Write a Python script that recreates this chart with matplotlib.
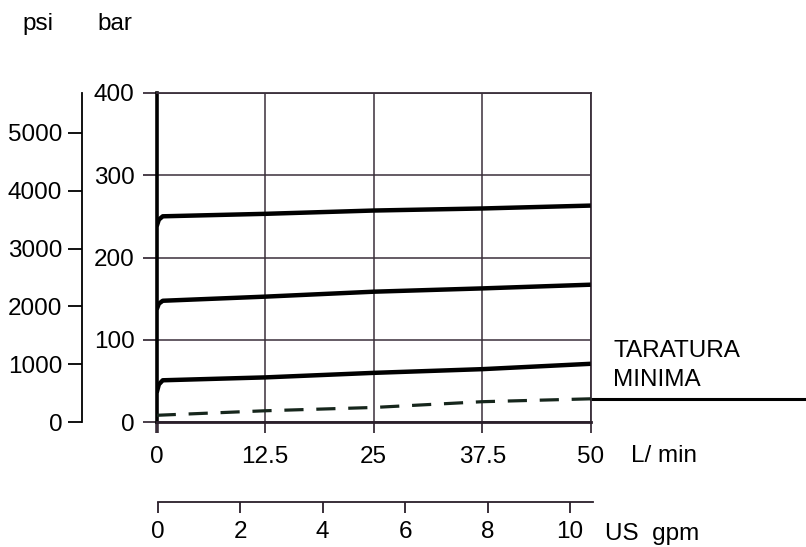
import matplotlib
matplotlib.use("Agg")
import matplotlib.pyplot as plt

plt.rcParams['font.family'] = ['Liberation Sans', 'DejaVu Sans']

# flow (L/min) and pressure (bar)
flow = [0, 0.25, 0.7, 12.5, 25, 37.5, 50]
p_high = [238, 246, 250, 253, 257, 259.5, 263]
p_mid = [137, 144, 147.5, 152.5, 158.5, 162.5, 167]
p_low = [36, 46, 51, 54.5, 60, 64.5, 71]
flow_min = [0, 12.5, 25, 37.5, 50]
p_min = [8.5, 14, 18, 25, 28.5]

lmin_ticks = [0, 12.5, 25, 37.5, 50]
lmin_labels = ['0', '12.5', '25', '37.5', '50']
bar_ticks = [0, 100, 200, 300, 400]
psi_ticks = [0, 1000, 2000, 3000, 4000, 5000]
gpm_ticks = [0, 2, 4, 6, 8, 10]

W, H = 806, 547
fs = 17.5
grid_c = '#3a2f3a'

fig = plt.figure(figsize=(W / 100, H / 100), dpi=100)

def box(l, r, top, bottom):
    return [l / W, 1 - bottom / H, (r - l) / W, (bottom - top) / H]

# main chart (bar vs L/min)
ax = fig.add_axes(box(156.7, 590.7, 92.7, 422.3))
ax.set_xlim(0, 50)
ax.set_ylim(0, 400)
ax.set_xticks(lmin_ticks)
ax.set_xticklabels(lmin_labels)
ax.set_yticks(bar_ticks)
ax.grid(True, color=grid_c, linewidth=1.1)
for s in ['top', 'right']:
    ax.spines[s].set_color(grid_c)
    ax.spines[s].set_linewidth(1.3)
ax.spines['bottom'].set_color('#2a1f2a')
ax.spines['bottom'].set_linewidth(2)
ax.spines['left'].set_color('black')
ax.spines['left'].set_linewidth(2.6)
ax.tick_params(axis='x', length=8, width=1.3, color=grid_c, pad=9, labelsize=fs)
ax.tick_params(axis='y', length=10, width=1.3, color=grid_c, pad=6, labelsize=fs)
t0 = ax.xaxis.get_major_ticks()[0]
t0.tick1line.set_color('black')
t0.tick1line.set_markeredgewidth(2.6)

ax.plot(flow, p_high, color='black', lw=3.2, solid_capstyle='butt', zorder=3)
ax.plot(flow, p_mid, color='black', lw=3.2, solid_capstyle='butt', zorder=3)
ax.plot(flow, p_low, color='black', lw=3.2, solid_capstyle='butt', zorder=3)
ax.plot(flow_min, p_min, color='#16261c', lw=2.3, dashes=(6, 4), zorder=3)
# pointer line to "TARATURA MINIMA"
ax.plot([50, 75], [p_min[-1], p_min[-1]], color='black', lw=2.2, clip_on=False)

# psi axis
axp = fig.add_axes(box(81.7, 82.7, 92.7, 422.3))
axp.set_ylim(0, 5000 * (422.3 - 92.7) / (422.3 - 132.7))
axp.set_yticks(psi_ticks)
axp.set_xticks([])
for s in ['top', 'right', 'bottom']:
    axp.spines[s].set_visible(False)
axp.spines['left'].set_linewidth(1.3)
axp.tick_params(axis='y', length=10, width=1.3, pad=4, labelsize=fs)
axp.patch.set_visible(False)

# US gpm axis
axg = fig.add_axes(box(157.7, 593.3, 500.7, 501.7))
axg.set_xlim(0, (593.3 - 157.7) / 41.23)
axg.set_xticks(gpm_ticks)
axg.set_yticks([])
for s in ['top', 'right', 'left']:
    axg.spines[s].set_visible(False)
axg.spines['bottom'].set_color('#2a1f2a')
axg.spines['bottom'].set_linewidth(1.3)
axg.tick_params(axis='x', length=8, width=1.3, color='#2a1f2a', pad=6, labelsize=fs)
axg.patch.set_visible(False)

fig.text(38 / W, 1 - 24 / H, 'psi', fontsize=fs, ha='center', va='center')
fig.text(115 / W, 1 - 24 / H, 'bar', fontsize=fs, ha='center', va='center')
fig.text(631 / W, 1 - 456 / H, 'L/ min', fontsize=fs, ha='left', va='center')
fig.text(605 / W, 1 - 534 / H, 'US  gpm', fontsize=fs, ha='left', va='center')
fig.text(613 / W, 1 - 351 / H, 'TARATURA', fontsize=fs, ha='left', va='center')
fig.text(613 / W, 1 - 380 / H, 'MINIMA', fontsize=fs, ha='left', va='center')

fig.savefig('out.png', dpi=100)
